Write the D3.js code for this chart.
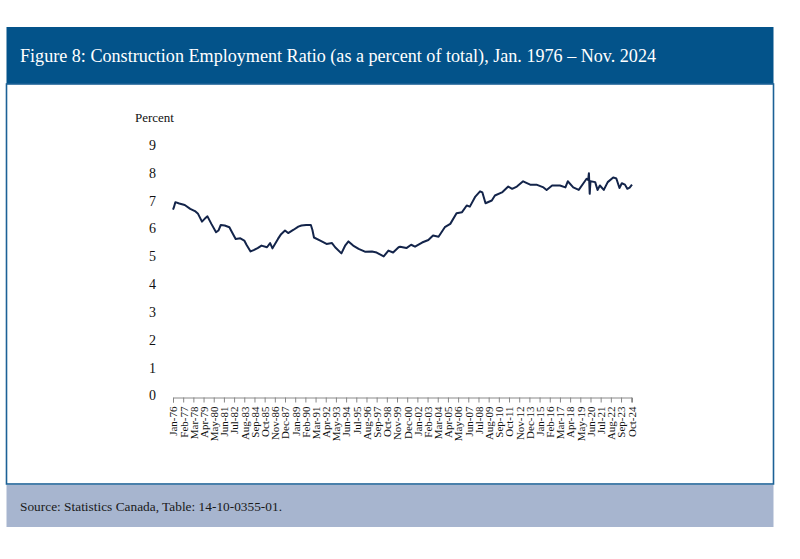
<!DOCTYPE html>
<meta charset="utf-8">
<style>
body{
  margin: 0;
  background: #fff;
}
svg{ display: block; }
</style>

<svg width="800" height="559"></svg>
<script src="https://d3js.org/d3.v7.min.js"></script>
<script>

var obsMonths = [
  "1976-01","1976-02","1976-04","1976-09","1977-04","1977-11","1978-05","1978-09",
  "1979-02","1979-06","1979-09","1980-02","1980-08","1980-11","1981-02","1981-07",
  "1982-01","1982-04","1982-09","1983-03","1983-08","1983-11","1984-04","1984-08",
  "1985-01","1985-06","1986-01","1986-05","1986-08","1987-03","1987-07","1987-12",
  "1988-04","1988-11","1989-05","1989-09","1990-03","1990-09","1990-11","1991-01",
  "1991-09","1992-05","1992-12","1993-04","1993-12","1994-05","1994-09","1995-03",
  "1995-10","1996-06","1997-03","1997-09","1998-06","1998-12","1999-06","2000-01",
  "2000-03","2000-11","2001-05","2001-10","2002-07","2003-03","2003-09","2004-04",
  "2004-12","2005-07","2006-03","2006-10","2007-04","2007-08","2008-03","2008-09",
  "2008-12","2009-04","2009-12","2010-04","2011-01","2011-09","2012-02","2012-08",
  "2013-04","2014-01","2014-09","2015-06","2015-10","2016-05","2017-03","2017-10",
  "2018-01","2018-08","2019-03","2019-09","2020-01","2020-03","2020-04","2020-05",
  "2020-06","2020-12","2021-03","2021-06","2021-11","2022-04","2022-11","2023-03",
  "2023-07","2023-10","2024-02","2024-05","2024-08","2024-11"
];
var ratio = [
  6.73,6.80,7.00,6.95,6.90,6.76,6.68,6.58,
  6.30,6.42,6.49,6.22,5.92,5.98,6.18,6.16,
  6.10,5.94,5.68,5.70,5.62,5.46,5.23,5.28,
  5.35,5.44,5.38,5.53,5.34,5.68,5.85,5.98,
  5.89,6.01,6.12,6.16,6.18,6.18,6.00,5.73,
  5.62,5.50,5.53,5.38,5.16,5.45,5.59,5.44,
  5.32,5.22,5.23,5.19,5.05,5.26,5.19,5.38,
  5.40,5.35,5.47,5.40,5.55,5.64,5.80,5.76,
  6.10,6.22,6.60,6.64,6.88,6.84,7.20,7.39,
  7.35,6.96,7.06,7.24,7.35,7.56,7.48,7.56,
  7.75,7.63,7.63,7.53,7.44,7.60,7.60,7.53,
  7.75,7.53,7.44,7.68,7.84,7.80,8.04,7.30,
  7.75,7.72,7.44,7.60,7.44,7.72,7.89,7.85,
  7.51,7.68,7.63,7.48,7.52,7.63
];
var yTicks = [0,1,2,3,4,5,6,7,8,9];
var tickEvery = 13; // months between category labels

var titleText = "Figure 8: Construction Employment Ratio (as a percent of total), Jan. 1976 \u2013 Nov. 2024";
var sourceText = "Source: Statistics Canada, Table: 14-10-0355-01.";

var svg = d3.select("svg");
var serif = "'Liberation Serif', 'DejaVu Serif', serif";

var parse = d3.timeParse("%Y-%m"),
    fmt = d3.timeFormat("%b-%y"),
    start = parse("1976-01");

function monthIndex(d) { return d3.timeMonth.count(start, d); }

var data = obsMonths.map(function(m, i) { return {m: monthIndex(parse(m)), v: ratio[i]}; });
var lastM = monthIndex(parse("2024-11"));

// frame: title bar, panel, source strip
svg.append("rect").attr("x", 6.5).attr("y", 27).attr("width", 767).attr("height", 57)
   .attr("fill", "#03538a");
svg.append("rect").attr("x", 6.5).attr("y", 84).attr("width", 767).attr("height", 400)
   .attr("fill", "#fff").attr("stroke", "#1c6196").attr("stroke-width", 1.6);
svg.append("rect").attr("x", 6.5).attr("y", 485).attr("width", 767).attr("height", 42)
   .attr("fill", "#a7b5cf");

svg.append("text").attr("x", 20).attr("y", 62)
   .attr("font-family", serif).attr("font-size", 19).attr("fill", "#fff")
   .attr("textLength", 636).attr("lengthAdjust", "spacingAndGlyphs")
   .text(titleText);

svg.append("text").attr("x", 20).attr("y", 511)
   .attr("font-family", serif).attr("font-size", 13.5).attr("fill", "#1a1a1a")
   .attr("textLength", 262).attr("lengthAdjust", "spacingAndGlyphs")
   .text(sourceText);

var x = d3.scaleLinear().domain([0, lastM]).range([173, 632]),
    y = d3.scaleLinear().domain([0, 9]).range([397, 146.5]);

// y axis: labels only
var yAxis = svg.append("g")
    .attr("transform", "translate(156,-1.5)")
    .call(d3.axisLeft(y).tickValues(yTicks).tickSize(0).tickPadding(0));
yAxis.select(".domain").remove();
yAxis.selectAll("text")
    .attr("font-family", serif).attr("font-size", 14).attr("fill", "#111");

svg.append("text").attr("x", 135).attr("y", 122)
   .attr("font-family", serif).attr("font-size", 13).attr("fill", "#111")
   .text("Percent");

// x axis: every 13th month
var xTicks = d3.range(0, lastM, tickEvery);
var xAxis = svg.append("g")
    .attr("transform", "translate(0," + (y(0) + 0.5) + ")")
    .call(d3.axisBottom(x).tickValues(xTicks).tickSizeOuter(0).tickSize(5)
      .tickFormat(function(d) { return fmt(d3.timeMonth.offset(start, d)); }));
xAxis.select(".domain").attr("stroke", "#888").attr("stroke-width", 1);
xAxis.selectAll(".tick line").attr("stroke", "#888");
xAxis.selectAll("text")
    .attr("font-family", serif).attr("font-size", 11).attr("fill", "#111")
    .attr("transform", "rotate(-90)")
    .attr("text-anchor", "end")
    .attr("x", -9).attr("y", 0).attr("dy", "0.35em");

var line = d3.line()
    .x(function(d) { return x(d.m); })
    .y(function(d) { return y(d.v); });

svg.append("path")
   .datum(data)
   .attr("fill", "none")
   .attr("stroke", "#13244a")
   .attr("stroke-width", 2)
   .attr("stroke-linejoin", "round")
   .attr("d", line);

</script>
